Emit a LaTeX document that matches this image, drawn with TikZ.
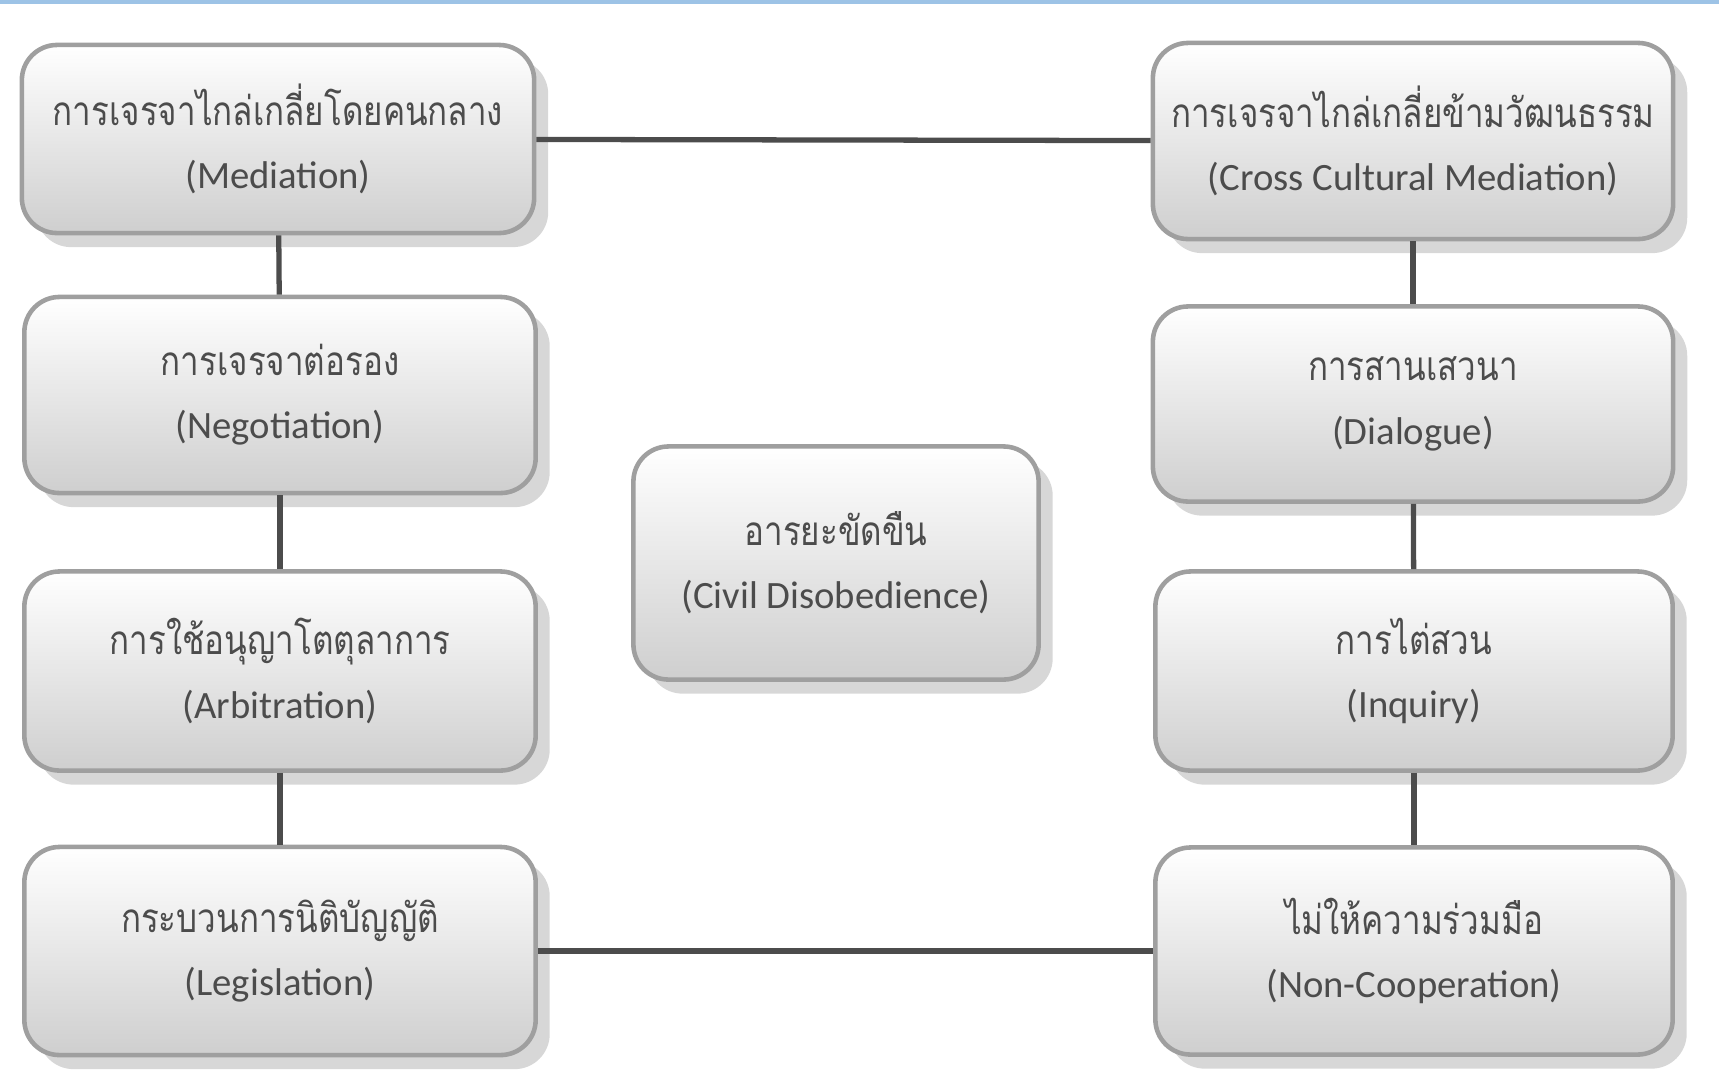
\documentclass[tikz,border=0pt]{standalone}
\usepackage{fontspec}
\setmainfont{Carlito}
\newfontfamily\thaifont[Script=Thai,FakeStretch=0.82]{Loma}
\usetikzlibrary{shadows,positioning}

\definecolor{edgeblue}{HTML}{9DC3E6}

\tikzset{
	stage/.style={draw=gray!75, line width=1.3pt, rounded corners=10pt,
		top color=white, bottom color=gray!38,
		drop shadow={shadow xshift=4pt, shadow yshift=-4pt, fill=gray!70, opacity=0.45},
		align=center, text=black!70, inner sep=0pt,
		font=\fontsize{11}{18}\selectfont},
	link/.style={draw=black!70, line width=1.5pt}
}
\newcommand{\thtext}[1]{{\fontsize{11.5}{18}\selectfont\thaifont #1}}

\begin{document}
\begin{tikzpicture}[x=0.01cm,y=-0.01cm]
	\useasboundingbox (0,0) rectangle (1719,1087);
	\draw[edgeblue,line width=1.5pt] (0,1) -- (1719,1);
	% left column
	\node[stage,minimum width=5.12cm,minimum height=1.88cm] (mediation) at (278,139) {\thtext{การเจรจาไกล่เกลี่ยโดยคนกลาง}\\(Mediation)};
	\node[stage,minimum width=5.11cm,minimum height=1.96cm] (negotiation) at (280,395) {\thtext{การเจรจาต่อรอง}\\(Negotiation)};
	\node[stage,minimum width=5.11cm,minimum height=1.99cm] (arbitration) at (280,671) {\thtext{การใช้อนุญาโตตุลาการ}\\(Arbitration)};
	\node[stage,minimum width=5.11cm,minimum height=2.08cm] (legislation) at (280,951) {\thtext{กระบวนการนิติบัญญัติ}\\(Legislation)};
	% right column
	\node[stage,minimum width=5.20cm,minimum height=1.96cm] (crossmed) at (1413,141) {\thtext{การเจรจาไกล่เกลี่ยข้ามวัฒนธรรม}\\(Cross Cultural Mediation)};
	\node[stage,minimum width=5.20cm,minimum height=1.95cm] (dialogue) at (1413,404) {\thtext{การสานเสวนา}\\(Dialogue)};
	\node[stage,minimum width=5.17cm,minimum height=1.99cm] (inquiry) at (1414,671) {\thtext{การไต่สวน}\\(Inquiry)};
	\node[stage,minimum width=5.17cm,minimum height=2.07cm] (noncoop) at (1414,951) {\thtext{ไม่ให้ความร่วมมือ}\\(Non-Cooperation)};
	% centre
	\node[stage,minimum width=4.05cm,minimum height=2.33cm] (civil) at (836,563) {\thtext{อารยะขัดขืน}\\(Civil Disobedience)};
	% connectors
	\draw[link] (mediation) -- (negotiation);
	\draw[link] (negotiation) -- (arbitration);
	\draw[link] (arbitration) -- (legislation);
	\draw[link] (crossmed) -- (dialogue);
	\draw[link] (dialogue) -- (inquiry);
	\draw[link] (inquiry) -- (noncoop);
	\draw[link] (mediation) -- (crossmed);
	\draw[link] (legislation) -- (noncoop);
\end{tikzpicture}
\end{document}
